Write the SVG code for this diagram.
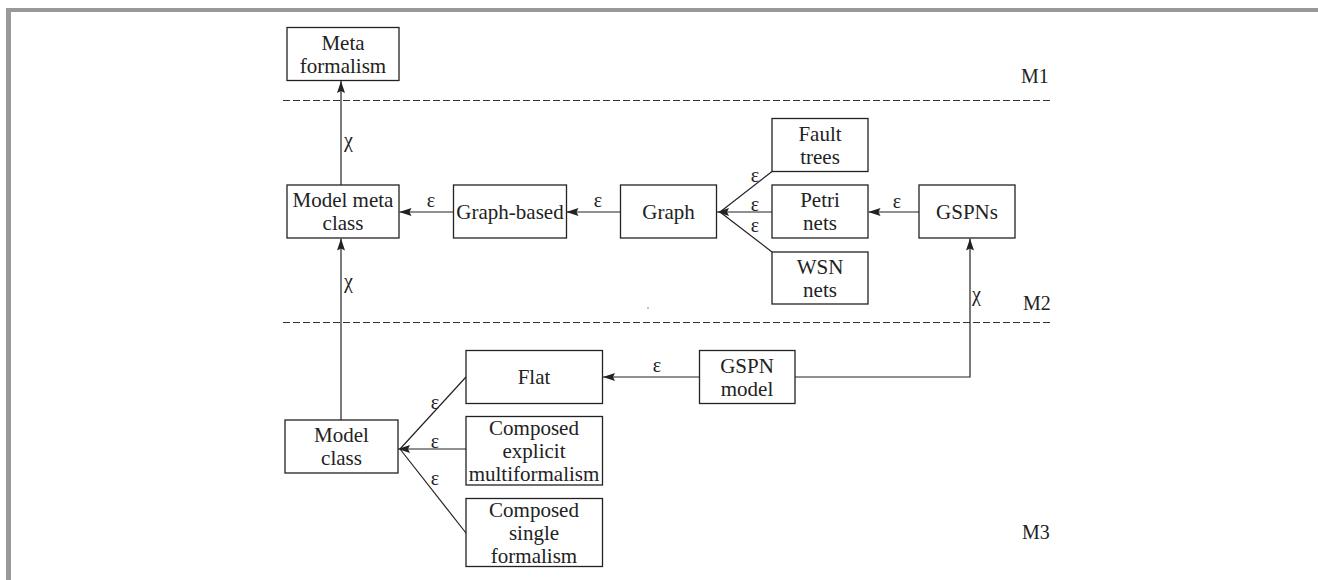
<svg xmlns="http://www.w3.org/2000/svg" width="1318" height="580" viewBox="0 0 1318 580">
<style>
.box{fill:#fff;stroke:#222;stroke-width:1.3}
.t{font-family:"Liberation Serif","Times New Roman",serif;font-size:21px;fill:#222;text-anchor:middle}
.lbl{font-family:"Liberation Serif","Times New Roman",serif;font-size:20px;fill:#222;text-anchor:middle}
.lv{font-family:"Liberation Serif","Times New Roman",serif;font-size:20px;fill:#222}
.c{fill:none;stroke:#222;stroke-width:1.2}
.dash{stroke:#333;stroke-width:1.2;stroke-dasharray:7 3}
</style>
<defs>
<marker id="ah" viewBox="0 0 12 8" refX="12" refY="4" markerWidth="12" markerHeight="8" markerUnits="userSpaceOnUse" orient="auto">
<path d="M0,0 L12,4 L0,8 L2,4 Z" fill="#222"/>
</marker>
</defs>
<rect x="0" y="0" width="1318" height="580" fill="#fff"/>
<rect x="6" y="8" width="1312" height="4" fill="#999"/>
<rect x="6" y="8" width="5" height="572" fill="#999"/>
<g id="layers">
<line class="dash" x1="283" y1="100.5" x2="1053" y2="100.5"/>
<line class="dash" x1="283" y1="322.5" x2="1053" y2="322.5"/>
<text class="lv" x="1021" y="83">M1</text>
<text class="lv" x="1023" y="310">M2</text>
<text class="lv" x="1022" y="539">M3</text>
<circle cx="648" cy="308" r="0.8" fill="#777"/>
</g>
<g id="connectors">
<line class="c" x1="341" y1="185" x2="341" y2="81" marker-end="url(#ah)"/>
<line class="c" x1="341" y1="420" x2="341" y2="238.5" marker-end="url(#ah)"/>
<line class="c" x1="453.5" y1="212" x2="399.5" y2="212" marker-end="url(#ah)"/>
<line class="c" x1="620.5" y1="212" x2="566.5" y2="212" marker-end="url(#ah)"/>
<line class="c" x1="772" y1="171.5" x2="720" y2="212"/>
<line class="c" x1="772" y1="252" x2="720" y2="212"/>
<line class="c" x1="772" y1="212" x2="717" y2="212" marker-end="url(#ah)"/>
<line class="c" x1="919" y1="212" x2="868.5" y2="212" marker-end="url(#ah)"/>
<polyline class="c" points="795,377 970,377 970,238.5" marker-end="url(#ah)"/>
<line class="c" x1="699" y1="377" x2="603" y2="377" marker-end="url(#ah)"/>
<line class="c" x1="466" y1="377" x2="400" y2="449"/>
<line class="c" x1="466" y1="533" x2="400" y2="449"/>
<line class="c" x1="466" y1="449" x2="398" y2="449" marker-end="url(#ah)"/>
<text class="lv" x="344" y="147">χ</text>
<text class="lv" x="344" y="288">χ</text>
<text class="lv" x="972" y="301">χ</text>
<text class="lbl" x="431" y="207">ε</text>
<text class="lbl" x="598" y="207">ε</text>
<text class="lbl" x="755" y="182">ε</text>
<text class="lbl" x="755" y="211">ε</text>
<text class="lbl" x="755" y="232">ε</text>
<text class="lbl" x="897" y="208">ε</text>
<text class="lbl" x="657" y="372">ε</text>
<text class="lbl" x="435" y="409">ε</text>
<text class="lbl" x="435" y="448">ε</text>
<text class="lbl" x="435" y="485">ε</text>
</g>
<g id="meta-formalism">
<rect class="box" x="287" y="27.5" width="112" height="53"/>
<text class="t" x="343" y="50">Meta</text>
<text class="t" x="343" y="73">formalism</text>
</g>
<g id="model-meta-class">
<rect class="box" x="287" y="185" width="112" height="53"/>
<text class="t" x="343" y="207">Model meta</text>
<text class="t" x="343" y="230">class</text>
</g>
<g id="graph-based">
<rect class="box" x="453.5" y="185" width="113" height="53"/>
<text class="t" x="510" y="219">Graph-based</text>
</g>
<g id="graph">
<rect class="box" x="620.5" y="185" width="96" height="53"/>
<text class="t" x="668.5" y="219">Graph</text>
</g>
<g id="fault-trees">
<rect class="box" x="772" y="118.5" width="96" height="53"/>
<text class="t" x="820" y="141">Fault</text>
<text class="t" x="820" y="164">trees</text>
</g>
<g id="petri-nets">
<rect class="box" x="772" y="185" width="96" height="53"/>
<text class="t" x="820" y="207">Petri</text>
<text class="t" x="820" y="230">nets</text>
</g>
<g id="wsn-nets">
<rect class="box" x="772" y="252" width="96" height="52"/>
<text class="t" x="820" y="274">WSN</text>
<text class="t" x="820" y="297">nets</text>
</g>
<g id="gspns">
<rect class="box" x="919" y="185" width="96" height="53"/>
<text class="t" x="967" y="219">GSPNs</text>
</g>
<g id="gspn-model">
<rect class="box" x="699.5" y="350.5" width="95.5" height="53"/>
<text class="t" x="747" y="373">GSPN</text>
<text class="t" x="747" y="396">model</text>
</g>
<g id="flat">
<rect class="box" x="466" y="350.5" width="136.5" height="53"/>
<text class="t" x="534" y="384">Flat</text>
</g>
<g id="composed-explicit">
<rect class="box" x="466" y="416.5" width="136.5" height="68.5"/>
<text class="t" x="534" y="435">Composed</text>
<text class="t" x="534" y="458">explicit</text>
<text class="t" x="534" y="481">multiformalism</text>
</g>
<g id="composed-single">
<rect class="box" x="466" y="498.5" width="136.5" height="68"/>
<text class="t" x="534" y="517">Composed</text>
<text class="t" x="534" y="540">single</text>
<text class="t" x="534" y="563">formalism</text>
</g>
<g id="model-class">
<rect class="box" x="285" y="420" width="113" height="53"/>
<text class="t" x="341.5" y="442">Model</text>
<text class="t" x="341.5" y="465">class</text>
</g>
</svg>
